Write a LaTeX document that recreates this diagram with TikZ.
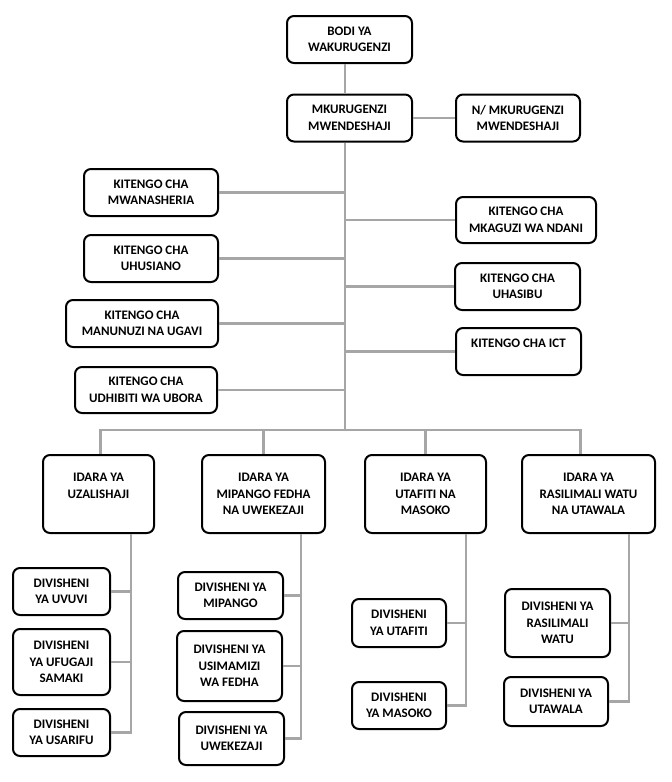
\documentclass[tikz,border=0pt]{standalone}
\usepackage{fontspec}
\setmainfont{Carlito}
\usetikzlibrary{positioning}
\definecolor{linegray}{HTML}{A6A6A6}

\begin{document}
\begin{tikzpicture}[
    x=1pt, y=-1pt,
    box/.style={rectangle, rounded corners=7pt, draw=black, line width=2pt, fill=white,
                align=center, inner sep=2pt,
                font=\fontsize{13}{16.5}\selectfont\bfseries},
    link/.style={draw=linegray, line width=2.6pt}
]
\useasboundingbox (0,0) rectangle (672,782);

% Top
\node[box, minimum width=125, minimum height=47] (bodi) at (349.5,39.5) {BODI YA\\WAKURUGENZI};
\node[box, minimum width=125, minimum height=47] (md) at (349.5,118) {MKURUGENZI\\MWENDESHAJI};
\node[box, minimum width=124, minimum height=47] (nmd) at (518,118) {N/ MKURUGENZI\\MWENDESHAJI};

% Vitengo
\node[box, minimum width=134, minimum height=47] (mwanasheria) at (151,192.5) {KITENGO CHA\\MWANASHERIA};
\node[box, minimum width=134, minimum height=47] (uhusiano) at (151,258.5) {KITENGO CHA\\UHUSIANO};
\node[box, minimum width=152, minimum height=47] (manunuzi) at (142,323.5) {KITENGO CHA\\MANUNUZI NA UGAVI};
\node[box, minimum width=142, minimum height=46] (udhibiti) at (146,390) {KITENGO CHA\\UDHIBITI WA UBORA};
\node[box, minimum width=140, minimum height=46] (mkaguzi) at (526,220) {KITENGO CHA\\MKAGUZI WA NDANI};
\node[box, minimum width=125, minimum height=47] (uhasibu) at (517.5,286.5) {KITENGO CHA\\UHASIBU};
\node[box, minimum width=125, minimum height=47] (ict) at (518.5,351.5) {KITENGO CHA ICT\\~};

% Idara
\node[box, minimum width=111, minimum height=78] (uzalishaji) at (98.5,494) {IDARA YA\\UZALISHAJI\\~};
\node[box, minimum width=123, minimum height=78] (mipango) at (263.5,494) {IDARA YA\\MIPANGO FEDHA\\NA UWEKEZAJI};
\node[box, minimum width=121, minimum height=78] (utafiti) at (425.5,494) {IDARA YA\\UTAFITI NA\\MASOKO};
\node[box, minimum width=133, minimum height=78] (rasilimali) at (588.5,494) {IDARA YA\\RASILIMALI WATU\\NA UTAWALA};

% Divisheni
\node[box, minimum width=97, minimum height=47] (uvuvi) at (61.5,591.5) {DIVISHENI\\YA UVUVI};
\node[box, minimum width=97, minimum height=66] (ufugaji) at (61.5,662) {DIVISHENI\\YA UFUGAJI\\SAMAKI};
\node[box, minimum width=97, minimum height=47] (usarifu) at (61.5,732.5) {DIVISHENI\\YA USARIFU};
\node[box, minimum width=105, minimum height=47] (dmipango) at (230.5,595.5) {DIVISHENI YA\\MIPANGO};
\node[box, minimum width=105, minimum height=70] (usimamizi) at (229.5,666) {DIVISHENI YA\\USIMAMIZI\\WA FEDHA};
\node[box, minimum width=105, minimum height=53] (uwekezaji) at (231.5,738.5) {DIVISHENI YA\\UWEKEZAJI};
\node[box, minimum width=94, minimum height=48] (dutafiti) at (399,623) {DIVISHENI\\YA UTAFITI};
\node[box, minimum width=94, minimum height=47] (masoko) at (399,705.5) {DIVISHENI\\YA MASOKO};
\node[box, minimum width=105, minimum height=68] (drasilimali) at (557.5,623) {DIVISHENI YA\\RASILIMALI\\WATU};
\node[box, minimum width=104, minimum height=49] (utawala) at (556,701.5) {DIVISHENI YA\\UTAWALA};

% Coordinates of the lines
\coordinate (trunk) at (345,0);
\coordinate (bus) at (345,430);
\coordinate (spineA) at (131,0);
\coordinate (spineB) at (301,0);
\coordinate (spineC) at (466,0);
\coordinate (spineD) at (629,0);

% Links
\draw[link] (bodi.south -| trunk) -- (md.north -| trunk);
\draw[link] (md) -- (nmd);
\draw[link] (md.south -| trunk) -- (bus);
\draw[link] (mwanasheria) -- (mwanasheria -| trunk);
\draw[link] (uhusiano) -- (uhusiano -| trunk);
\draw[link] (manunuzi) -- (manunuzi -| trunk);
\draw[link] (udhibiti) -- (udhibiti -| trunk);
\draw[link] (mkaguzi) -- (mkaguzi -| trunk);
\draw[link] (uhasibu) -- (uhasibu -| trunk);
\draw[link] (ict) -- (ict -| trunk);

\draw[link] ([xshift=2]uzalishaji.north) |- (bus);
\draw[link] ([xshift=-8]rasilimali.north) |- (bus);
\draw[link] (mipango.north |- bus) -- (mipango.north);
\draw[link] (utafiti.north |- bus) -- (utafiti.north);

\draw[link] (uzalishaji.south -| spineA) |- (usarifu.east);
\draw[link] (uvuvi) -- (uvuvi -| spineA);
\draw[link] (ufugaji) -- (ufugaji -| spineA);

\draw[link] (mipango.south -| spineB) |- (uwekezaji.east);
\draw[link] (dmipango) -- (dmipango -| spineB);
\draw[link] (usimamizi) -- (usimamizi -| spineB);

\draw[link] (utafiti.south -| spineC) |- (masoko.east);
\draw[link] (dutafiti) -- (dutafiti -| spineC);

\draw[link] (rasilimali.south -| spineD) |- (utawala.east);
\draw[link] (drasilimali) -- (drasilimali -| spineD);

\end{tikzpicture}
\end{document}
